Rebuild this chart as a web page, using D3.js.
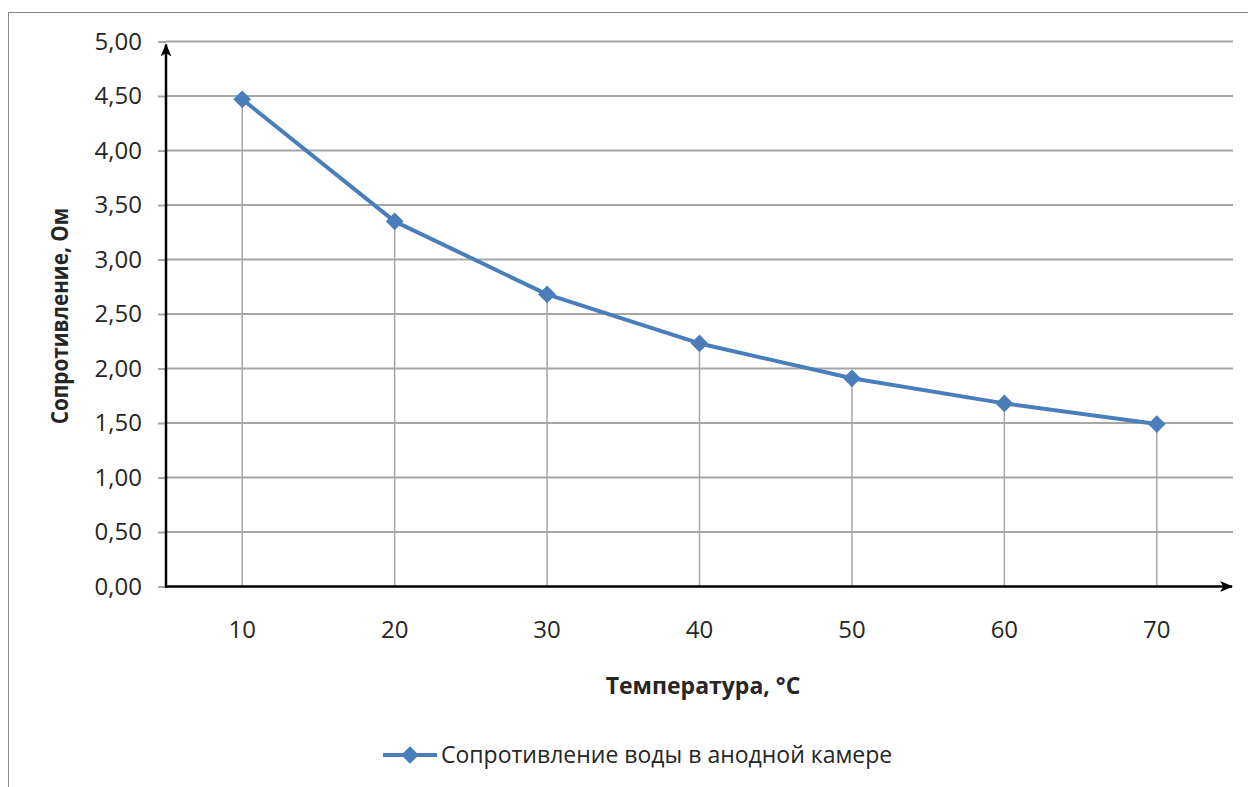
<!DOCTYPE html>
<html>
<head>
<meta charset="utf-8">
<script src="https://cdn.jsdelivr.net/npm/d3@7"></script>
<style>
  body { margin: 0; background: #fff; }
  text { font-family: "Open Sans", sans-serif; fill: #262626; }
</style>
</head>
<body>
<svg id="chart"></svg>
<script>
// data
const temperatures = [10, 20, 30, 40, 50, 60, 70]
const resistance = [4.47, 3.35, 2.68, 2.23, 1.91, 1.68, 1.49]
const yTicks = [0, 0.5, 1, 1.5, 2, 2.5, 3, 3.5, 4, 4.5, 5]
const seriesName = 'Сопротивление воды в анодной камере'
const xTitle = 'Температура, °С'
const yTitle = 'Сопротивление, Ом'

const svgWidth = 1248, svgHeight = 787
const svg = d3.select('#chart').attr('width', svgWidth).attr('height', svgHeight)

const margin = { top: 41.5, right: 15, bottom: 200.5, left: 166 }
const plotRight = svgWidth - margin.right
const plotBottom = svgHeight - margin.bottom

// outer frame of chart area
svg.append('rect')
  .attr('x', 8.5).attr('y', 12.5)
  .attr('width', 1260).attr('height', 800)
  .attr('fill', 'none').attr('stroke', '#8c8c8c').attr('stroke-width', 1)

const x = d3.scaleBand()
  .domain(temperatures)
  .range([margin.left, plotRight])

const y = d3.scaleLinear()
  .domain([0, 5])
  .range([plotBottom, margin.top])

// arrow marker
const defs = svg.append('defs')
defs.append('marker')
  .attr('id', 'arrow')
  .attr('viewBox', '0 0 12 10')
  .attr('refX', 11).attr('refY', 5)
  .attr('markerWidth', 13).attr('markerHeight', 11)
  .attr('markerUnits', 'userSpaceOnUse')
  .attr('orient', 'auto')
  .append('path')
  .attr('d', 'M0,0 L12,5 L0,10 L3,5 Z')
  .attr('fill', '#000')

// y axis with gridlines
const yAxis = d3.axisLeft(y)
  .tickValues(yTicks)
  .tickSize(8)
  .tickPadding(16)
  .tickFormat(d => d3.format('.2f')(d).replace('.', ','))

svg.append('g')
  .attr('transform', `translate(${margin.left},0)`)
  .call(yAxis)
  .call(g => g.select('.domain').remove())
  .call(g => g.selectAll('.tick line').attr('stroke', '#a6a6a6').attr('stroke-width', 2))
  .call(g => g.selectAll('.tick text')
    .style('font-family', '"Open Sans", sans-serif')
    .style('font-size', '24px').attr('fill', '#262626'))

svg.append('g')
  .selectAll('line')
  .data(yTicks.filter(d => d > 0))
  .enter()
  .append('line')
  .attr('x1', margin.left).attr('x2', plotRight)
  .attr('y1', d => y(d)).attr('y2', d => y(d))
  .attr('stroke', '#a6a6a6').attr('stroke-width', 2)

// drop lines
svg.append('g')
  .selectAll('line')
  .data(temperatures)
  .enter()
  .append('line')
  .attr('x1', (d) => x(d) + x.bandwidth() / 2)
  .attr('x2', (d) => x(d) + x.bandwidth() / 2)
  .attr('y1', (d, i) => y(resistance[i]))
  .attr('y2', y(0))
  .attr('stroke', '#a6a6a6').attr('stroke-width', 1.5)

// x axis labels
const xAxis = d3.axisBottom(x).tickSize(0).tickPadding(34)
svg.append('g')
  .attr('transform', `translate(0,${plotBottom})`)
  .call(xAxis)
  .call(g => g.select('.domain').remove())
  .call(g => g.selectAll('.tick text')
    .style('font-family', '"Open Sans", sans-serif')
    .style('font-size', '24px').attr('fill', '#262626'))

// axis lines with arrows
svg.append('line')
  .attr('x1', margin.left).attr('x2', margin.left)
  .attr('y1', plotBottom + 1).attr('y2', margin.top + 3)
  .attr('stroke', '#000').attr('stroke-width', 2.5)
  .attr('marker-end', 'url(#arrow)')

svg.append('line')
  .attr('x1', margin.left - 1).attr('x2', plotRight - 1)
  .attr('y1', plotBottom).attr('y2', plotBottom)
  .attr('stroke', '#000').attr('stroke-width', 2.5)
  .attr('marker-end', 'url(#arrow)')

// series line
const blue = '#4a7ebb'
const line = d3.line()
  .x((d, i) => x(temperatures[i]) + x.bandwidth() / 2)
  .y(d => y(d))

svg.append('path')
  .datum(resistance)
  .attr('d', line)
  .attr('fill', 'none')
  .attr('stroke', blue)
  .attr('stroke-width', 4)
  .attr('stroke-linejoin', 'round')

const diamond = d3.symbol().type(d3.symbolDiamond2).size(200)
svg.append('g')
  .selectAll('path')
  .data(resistance)
  .enter()
  .append('path')
  .attr('d', diamond)
  .attr('transform', (d, i) => `translate(${x(temperatures[i]) + x.bandwidth() / 2},${y(d)})`)
  .attr('fill', blue)

// axis titles
svg.append('text')
  .attr('x', 703).attr('y', 694)
  .attr('text-anchor', 'middle')
  .style('font-size', '23px').style('font-weight', 'bold')
  .text(xTitle)

// calibri-like narrow look for the vertical title
svg.append('text')
  .attr('transform', 'translate(68,316) rotate(-90) scale(0.9,1)')
  .attr('text-anchor', 'middle')
  .style('font-size', '23px').style('font-weight', 'bold')
  .text(yTitle)

// legend
const legend = svg.append('g').attr('transform', 'translate(383,755)')
legend.append('line')
  .attr('x1', 0).attr('x2', 54)
  .attr('y1', 0).attr('y2', 0)
  .attr('stroke', blue).attr('stroke-width', 4)
legend.append('path')
  .attr('d', diamond)
  .attr('transform', 'translate(27,0)')
  .attr('fill', blue)
legend.append('text')
  .attr('x', 58).attr('y', 8)
  .style('font-size', '23px')
  .text(seriesName)
</script>
</body>
</html>
